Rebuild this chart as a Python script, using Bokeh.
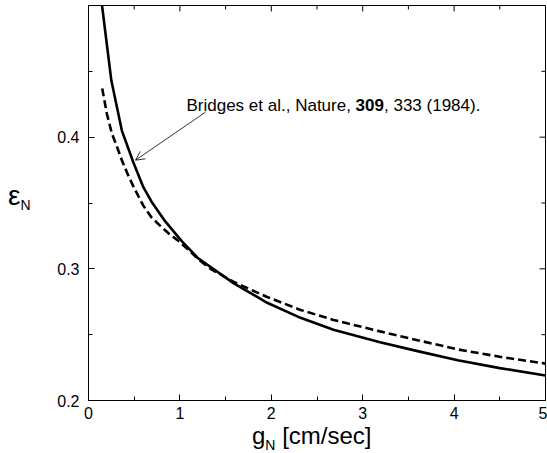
import math
from bokeh.plotting import figure
from bokeh.models import Range1d, FixedTicker, Label, Arrow, OpenHead, Div
from bokeh.layouts import row, column
from bokeh.embed import file_html
from bokeh.resources import INLINE

# ---- data ----
solid_x = [0.148, 0.25, 0.365, 0.49, 0.6, 0.69, 0.84, 1.02, 1.2, 1.59, 1.955, 2.32,
           2.68, 3.19, 3.6, 4.04, 4.5, 5.0]
solid_y = [0.500, 0.443, 0.405, 0.381, 0.362, 0.351, 0.336, 0.321, 0.308, 0.289,
           0.2742, 0.2628, 0.2537, 0.2443, 0.2375, 0.2306, 0.2246, 0.219]

dashed_x = [0.15, 0.2, 0.255, 0.31, 0.365, 0.44, 0.51, 0.6, 0.69, 0.78, 0.875, 0.97,
            1.1, 1.225, 1.335, 1.59, 1.955, 2.32, 2.68, 3.19, 3.6, 4.04, 4.5, 5.0]
dashed_y = [0.437, 0.418, 0.403, 0.393, 0.3825, 0.370, 0.360, 0.348, 0.339, 0.333,
            0.327, 0.322, 0.314, 0.306, 0.300, 0.290, 0.2786, 0.2688, 0.2612, 0.2525,
            0.2458, 0.2388, 0.2332, 0.228]

x_ticks = [0, 1, 2, 3, 4, 5]
x_minor = [0.5, 1.5, 2.5, 3.5, 4.5]
y_ticks = [0.2, 0.3, 0.4]
y_minor = [0.25, 0.35, 0.45]

ann_part1 = "Bridges et al., Nature, "
ann_bold = "309"
ann_part2 = ", 333 (1984)."

FONT = "Liberation Sans"
X0, X1, Y0, Y1 = 0, 5, 0.2, 0.5

p = figure(width=499, height=420, x_range=Range1d(X0, X1), y_range=Range1d(Y0, Y1),
           output_backend="svg", toolbar_location=None, margin=0,
           min_border_left=40, min_border_right=2, min_border_top=0, min_border_bottom=25)
p.xgrid.visible = False
p.ygrid.visible = False
p.outline_line_color = "black"
p.outline_line_width = 1
p.background_fill_color = "white"
p.border_fill_color = "white"

def style_axis(ax, ticks, minor):
    ax.ticker = FixedTicker(ticks=ticks, minor_ticks=minor)
    ax.major_tick_in = 6
    ax.major_tick_out = 0
    ax.minor_tick_in = 4
    ax.minor_tick_out = 0
    ax.major_tick_line_color = "black"
    ax.minor_tick_line_color = "black"
    ax.axis_line_color = "black"
    ax.major_label_text_font = FONT
    ax.major_label_text_font_size = "16px"
    ax.major_label_text_color = "black"

xa = p.xaxis[0]
ya = p.yaxis[0]
style_axis(xa, x_ticks, x_minor)
style_axis(ya, y_ticks, y_minor)
xa.major_label_standoff = 6
ya.major_label_standoff = 9

# mirrored ticks on top and right edges (inward)
p.ray(x=x_ticks, y=[Y1] * len(x_ticks), length=6, length_units="screen",
      angle=-math.pi / 2, line_color="black", line_width=1)
p.ray(x=x_minor, y=[Y1] * len(x_minor), length=4, length_units="screen",
      angle=-math.pi / 2, line_color="black", line_width=1)
p.ray(x=[X1] * len(y_ticks), y=y_ticks, length=6, length_units="screen",
      angle=math.pi, line_color="black", line_width=1)
p.ray(x=[X1] * len(y_minor), y=y_minor, length=4, length_units="screen",
      angle=math.pi, line_color="black", line_width=1)

p.line(solid_x, solid_y, line_color="black", line_width=2.6, line_join="round")
p.line(dashed_x, dashed_y, line_color="black", line_width=2.6, line_dash="8 4")

# annotation
ax0, ay0 = 1.072, 0.4243
p.add_layout(Label(x=ax0, y=ay0, text=ann_part1, text_font=FONT, text_font_size="17px",
                   text_color="black", text_baseline="alphabetic"))
p.add_layout(Label(x=ax0, y=ay0, x_offset=169.1, text=ann_bold, text_font=FONT,
                   text_font_size="17px", text_font_style="bold", text_color="black",
                   text_baseline="alphabetic"))
p.add_layout(Label(x=ax0, y=ay0, x_offset=197.5, text=ann_part2, text_font=FONT,
                   text_font_size="17px", text_color="black", text_baseline="alphabetic"))
p.add_layout(Arrow(end=OpenHead(size=9, line_width=0.8, line_color="black"),
                   x_start=1.28, y_start=0.419, x_end=0.514, y_end=0.3825,
                   line_width=0.8, line_color="black"))

# axis titles with subscripts, as HTML text
ylab = Div(width=40, height=420, margin=0,
           text=('<div style="margin-top:177px; font-family:\'Liberation Sans\'; '
                 'font-size:28px; line-height:28px; white-space:nowrap; color:black">'
                 'ε<span style="font-size:14px; position:relative; top:5px">N</span></div>'))
xlab = Div(width=539, height=27, margin=0,
           text=('<div style="margin-top:-1px; padding-left:244px; font-family:\'Liberation Sans\'; '
                 'font-size:24px; line-height:24px; white-space:nowrap; color:black">'
                 'g<span style="font-size:14px; position:relative; top:6px">N</span>'
                 ' [cm/sec]</div>'))

layout = column(row(ylab, p, margin=0, spacing=0), xlab, spacing=0, margin=(5, 0, 0, 8))

open("out.html", "w").write(file_html(layout, INLINE))
